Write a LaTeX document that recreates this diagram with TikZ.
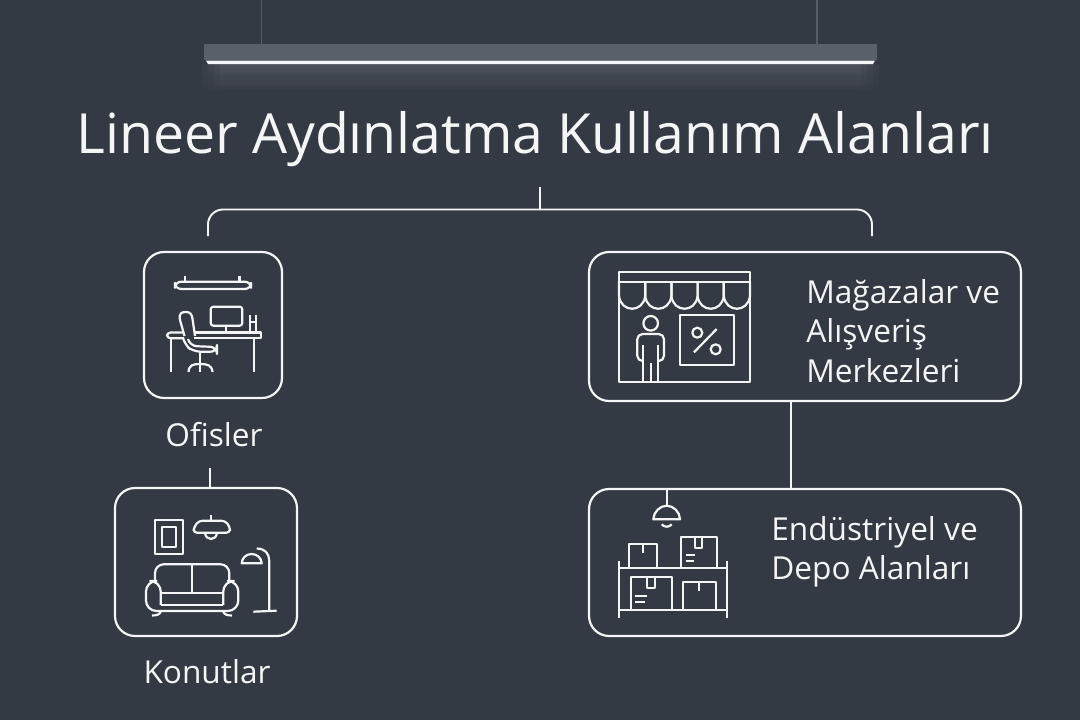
\documentclass[tikz,border=0pt]{standalone}
\usepackage{fontspec}
\usetikzlibrary{fadings}
\setmainfont{Open Sans}
\definecolor{bgdark}{RGB}{51, 58, 68}
\definecolor{lampbody}{RGB}{88, 96, 105}
\definecolor{rodgray}{RGB}{86, 93, 102}
\definecolor{linewhite}{RGB}{244, 245, 245}
\tikzset{
    panel/.style={draw=linewhite, line width=1.25pt, rounded corners=0.4cm, inner sep=0pt, outer sep=0pt},
    link/.style={draw=linewhite, line width=1.1pt},
    icon/.style={draw=linewhite, line width=1.25pt, line join=round},
    caption/.style={text=linewhite, font=\fontsize{18}{22.4}\selectfont, align=left, inner sep=0pt},
}
\begin{document}
\begin{tikzpicture}[x=0.02cm, y=-0.02cm]
\useasboundingbox (0,0) rectangle (1080,720);
\fill[bgdark] (0,0) rectangle (1080,720);

% lamba
\foreach \x in {261.5,817} {
    \draw[rodgray, line width=0.7pt] (\x,0) -- (\x,44);
}
\foreach \d in {0,6,12,18} {
    \fill[white, fill opacity=0.035, path fading=south] (202+\d,64) rectangle (879-\d,94);
}
\fill[lampbody] (204,44) rectangle (877,60);
\fill[linewhite] (206,60.5) -- (875,60.5) -- (873,64) -- (208,64) -- cycle;

% baslik
\node[text=linewhite, font=\fontsize{31.5}{37}\selectfont, inner sep=0pt] (title) at (535,139) {Lineer Aydınlatma Kullanım Alanları};

% kutular
\node[panel, minimum width=2.76cm, minimum height=2.92cm] (ofisbox) at (213,325) {};
\node[panel, minimum width=3.64cm, minimum height=2.96cm] (konutbox) at (206,562) {};
\node[panel, minimum width=8.64cm, minimum height=2.98cm] (magazabox) at (805,326.5) {};
\node[panel, minimum width=8.64cm, minimum height=2.94cm] (depobox) at (805,562.5) {};

% etiketler
\node[caption] (ofislabel) at (214,435) {Ofisler};
\node[caption] (konutlabel) at (207,672) {Konutlar};
\node[caption, anchor=west] (magazalabel) at (806,331) {Mağazalar ve\\Alışveriş\\Merkezleri};
\node[caption, anchor=west] (depolabel) at (771,552) {Endüstriyel ve\\Depo Alanları};

% baglantilar
\coordinate (treetop) at (540,187);
\coordinate (treemid) at (540,209.5);
\coordinate (ofisdrop) at (208,236);
\coordinate (magazadrop) at (872,236);
\coordinate (ofisfoot) at (210,468);
\coordinate (rightlink) at (791,445);
\draw[link] (treetop) -- (treemid);
\draw[link, rounded corners=0.3cm] (ofisdrop) |- (treemid) -| (magazadrop);
\draw[link] (ofisfoot) -- (konutbox.north -| ofisfoot);
\draw[link] (magazabox.south -| rightlink) -- (depobox.north -| rightlink);

% ofis ikonu
\draw[icon, rounded corners=3.5] (175,281.7) rectangle (251,289);
\foreach \x in {185,239.5} {
    \draw[icon] (\x,275.5) -- (\x,281.7);
}
\draw[icon, rounded corners=1.5] (210.7,306.7) rectangle (242.3,325.7);
\draw[icon] (226,325.7) -- (226,332.5);
\draw[icon] (194,332.5) -- (260.7,332.5) -- (260.7,338.3) -- (194,338.3);
\draw[icon, rounded corners=2] (183,332.5) -- (167,332.5) -- (167,338.3) -- (184,338.3);
\draw[icon] (171,338.3) -- (171,372);
\draw[icon] (254.3,338.3) -- (254.3,372);
\draw[icon] (250,332) -- (250,315) (256,332) -- (256,315) (250,322) -- (256,322);
\draw[icon] (184.5,336) -- (180,320) .. controls (178.5,313) and (182,312) .. (186,312) .. controls (190,312) and (192,314) .. (192.5,319) -- (195,336);
\draw[icon, rounded corners=4] (188,339) -- (190,346) -- (217,347) -- (217,352) -- (193,351.5) -- (185,345) -- (183,338);
\draw[icon] (200,352) -- (200,372);
\draw[icon] (188.5,372) .. controls (189,365) and (193,364) .. (200,364) .. controls (207,364) and (212,365) .. (212.5,372);

% konut ikonu
\draw[icon] (155,520) rectangle (183.3,554);
\draw[icon] (162.3,526.7) rectangle (176,546.7);
\draw[icon] (211,515) -- (211,520.7);
\draw[icon, rounded corners=2] (193.3,532.7) -- (194,527) -- (199,520.7) -- (225,520.7) -- (230,527) -- (230,532.7) -- cycle;
\draw[icon] (205,533) .. controls (206,541) and (216,541) .. (217,533);
\draw[icon] (253.3,611.7) -- (276.7,610.7);
\draw[icon] (269.3,610.7) -- (269.3,562) .. controls (269.3,552) and (263,548) .. (256.7,548.5);
\draw[icon] (241.7,563.3) .. controls (242,558) and (246,554) .. (251.7,554) .. controls (257,554) and (261.5,558) .. (261.7,563.3) -- cycle;
\draw[icon, rounded corners=5] (155,583) -- (155,564.3) -- (229.3,564.3) -- (229.3,583);
\draw[icon] (191.7,564.3) -- (191.7,592.7);
\draw[icon] (160.7,592.7) -- (223.3,592.7);
\draw[icon] (160.7,605) -- (223.3,605);
\draw[icon, rounded corners=6] (160.7,605) -- (160.7,581) -- (146,581) -- (146,611) -- (238.3,611) -- (238.3,581) -- (223.3,581) -- (223.3,605);
\draw[icon] (152,615.5) .. controls (157,615.5) and (160,614.5) .. (161,611);
\draw[icon] (223,611) .. controls (224,614.5) and (227,615.5) .. (232,615.5);

% magaza ikonu
\draw[icon] (619,272.3) rectangle (750,381.7);
\draw[icon] (619,281.7) -- (750,281.7);
\foreach \x in {619,645.2,671.4,697.6,723.8} {
    \draw[icon] (\x,281.7) -- (\x,296) .. controls (\x+2,313) and (\x+24.2,313) .. (\x+26.2,296) -- (\x+26.2,281.7);
}
\draw[icon] (650.7,323.3) circle (7.3);
\draw[icon, rounded corners=3] (642.7,361) -- (637.3,361) -- (637.3,334) -- (664,334) -- (664,361) -- (658.3,361);
\draw[icon] (642.7,345) -- (642.7,381.7) (658.3,345) -- (658.3,381.7) (650.7,363) -- (650.7,381.7);
\draw[icon] (680,315) rectangle (734,365);
\draw[icon] (697.3,332.7) circle (5);
\draw[icon] (715.7,349.3) circle (5);
\draw[icon] (716.7,329) -- (694,352.3);

% depo ikonu
\draw[icon] (666.7,489) -- (666.7,505.7);
\draw[icon] (653.3,519.3) .. controls (653.5,512) and (660,505.7) .. (666.7,505.7) .. controls (673.5,505.7) and (680,512) .. (680,519.3) -- cycle;
\draw[icon] (661.7,524.3) .. controls (664,527.5) and (669.5,527.5) .. (671.7,524.3);
\draw[icon] (619.3,561) -- (619.3,618);
\draw[icon] (726.7,561) -- (726.7,618);
\draw[icon] (619.3,567.7) -- (726.7,567.7);
\draw[icon] (619.3,610) -- (726.7,610);
\draw[icon] (629.3,566.7) -- (629.3,544.3) -- (656.7,544.3) -- (656.7,566.7);
\draw[icon] (642.7,544.3) -- (642.7,553.3);
\draw[icon] (681,566.7) -- (681,536.7) -- (716.7,536.7) -- (716.7,566.7);
\draw[icon] (695,536.7) -- (695,548.3) -- (702.3,548.3) -- (702.3,536.7);
\draw[icon] (685.7,555) -- (695,555) (685.7,560.7) -- (694.3,560.7);
\draw[icon] (631,610) -- (631,576.7) -- (672.3,576.7) -- (672.3,610);
\draw[icon] (646.7,576.7) -- (646.7,587.7) -- (655,587.7) -- (655,576.7);
\draw[icon] (635,596) -- (646.7,596) (635,602.3) -- (645,602.3);
\draw[icon] (683.3,610) -- (683.3,581.7) -- (715.7,581.7) -- (715.7,610);
\draw[icon] (699.3,581.7) -- (699.3,591);
\end{tikzpicture}
\end{document}
